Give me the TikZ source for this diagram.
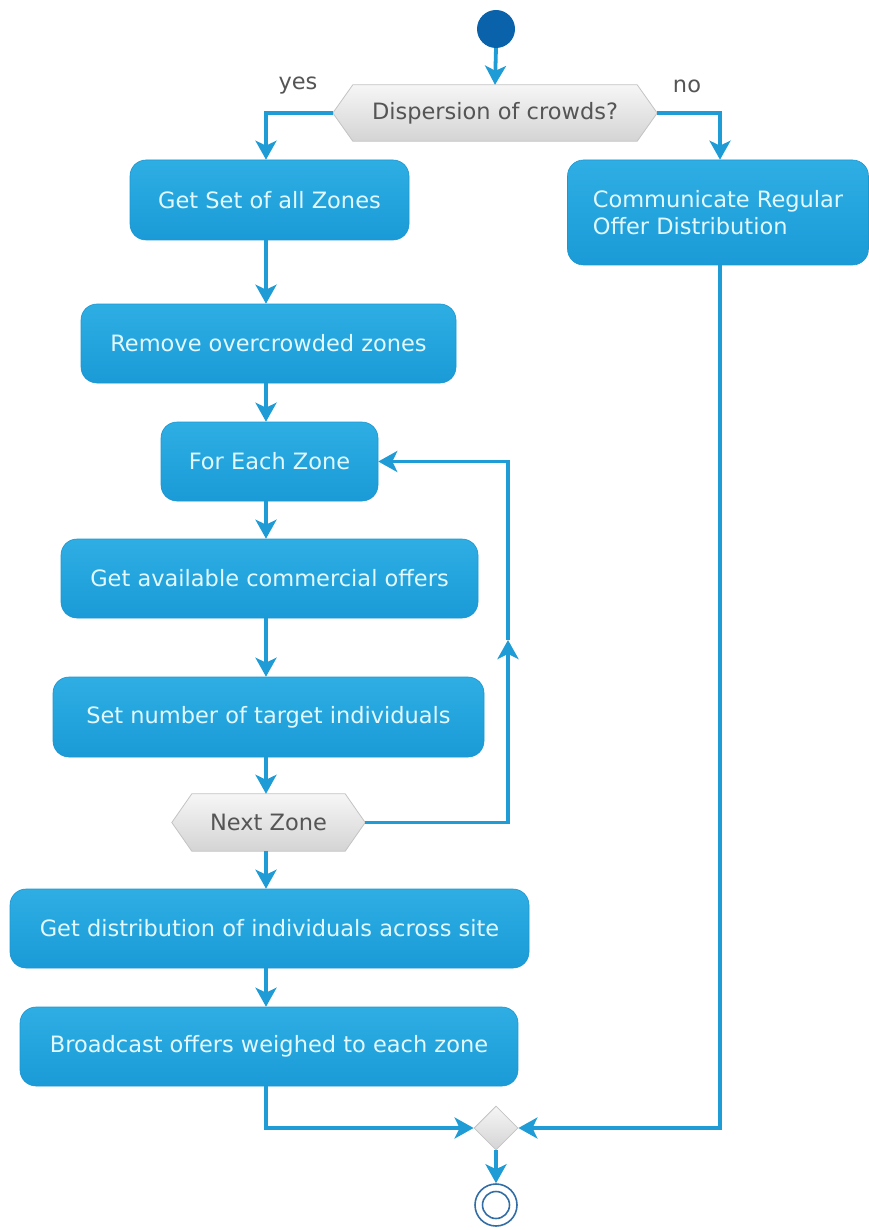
\documentclass[tikz,border=0pt]{standalone}
\usepackage{fontspec}
\setmainfont{DejaVu Sans}
\usetikzlibrary{arrows.meta,shapes.geometric,calc,backgrounds}
\definecolor{flowc}{RGB}{31,155,214}
\definecolor{boxtop}{RGB}{46,174,227}
\definecolor{boxbot}{RGB}{26,155,215}
\definecolor{boxedge}{RGB}{30,150,208}
\definecolor{boxtext}{RGB}{226,248,255}
\definecolor{hextop}{RGB}{246,246,246}
\definecolor{hexbot}{RGB}{212,212,212}
\definecolor{hexedge}{RGB}{195,195,195}
\definecolor{greytext}{RGB}{85,85,85}
\definecolor{startc}{RGB}{10,98,170}
\definecolor{endc}{RGB}{50,110,165}
\begin{document}
\begin{tikzpicture}[x=1pt,y=-1pt,
  txt/.style={font=\fontsize{22.5}{27}\selectfont},
  actbox/.style={txt, shade, top color=boxtop, bottom color=boxbot, draw=boxedge, line width=0.6pt,
    rounded corners=16pt, inner sep=0pt, text=boxtext},
  hexbox/.style={txt, inner sep=0pt, text=greytext},
  hexshape/.style={top color=hextop, bottom color=hexbot, draw=hexedge, line width=0.8pt},
  flow/.style={draw=flowc, line width=3.8pt, line join=miter,
    -{Stealth[length=19pt,width=21pt,inset=5pt,fill=flowc]}},
  lbl/.style={txt, text=greytext}
]
\useasboundingbox (0,0) rectangle (869,1230);
\coordinate (spine) at (266,0);
\coordinate (rspine) at (720,0);

% start / end
\node[circle, fill=startc, minimum size=38pt, inner sep=0pt] (start) at (496,29) {};
\node[circle, draw=endc, line width=1.6pt, minimum size=42pt, inner sep=0pt] (end) at (496,1205) {};
\node[circle, draw=endc, line width=1.6pt, minimum size=27pt, inner sep=0pt] (endin) at (496,1205) {};

% decision hexagons
\node[hexbox, minimum width=324pt, minimum height=56pt] (d1) at (495,113) {Dispersion of crowds?};
\node[hexbox, minimum width=193pt, minimum height=57pt] (nz) at (268.5,822.5) {Next Zone};
\begin{scope}[on background layer]
\shade[hexshape] (d1.west) -- ($(d1.north west)+(20,0)$) -- ($(d1.north east)+(-20,0)$) -- (d1.east)
  -- ($(d1.south east)+(-20,0)$) -- ($(d1.south west)+(20,0)$) -- cycle;
\shade[hexshape] (nz.west) -- ($(nz.north west)+(20,0)$) -- ($(nz.north east)+(-20,0)$) -- (nz.east)
  -- ($(nz.south east)+(-20,0)$) -- ($(nz.south west)+(20,0)$) -- cycle;
\end{scope}

\node[lbl] (yes) at (298,86) {yes};
\node[lbl] (no) at (687,86) {no};

% activity boxes
\node[actbox, minimum width=279pt, minimum height=80pt] (b1) at (269.5,200) {Get Set of all Zones};
\node[actbox, minimum width=301pt, minimum height=105pt, align=left] (rb) at (718,212.5) {Communicate Regular\\Offer Distribution};
\node[actbox, minimum width=375pt, minimum height=79pt] (b2) at (268.5,343.5) {Remove overcrowded zones};
\node[actbox, minimum width=217pt, minimum height=79pt] (fe) at (269.5,461.5) {For Each Zone};
\node[actbox, minimum width=417pt, minimum height=79pt] (b4) at (269.5,578.5) {Get available commercial offers};
\node[actbox, minimum width=431pt, minimum height=80pt] (b5) at (268.5,717) {Set number of target individuals};
\node[actbox, minimum width=519pt, minimum height=79pt] (b6) at (269.5,928.5) {Get distribution of individuals across site};
\node[actbox, minimum width=498pt, minimum height=79pt] (b7) at (269,1046.5) {Broadcast offers weighed to each zone};

% merge
\node[diamond, shade, top color=hextop, bottom color=hexbot, draw=hexedge, line width=0.8pt,
  minimum width=44pt, minimum height=44pt, inner sep=0pt] (m) at (496,1128) {};

% connectors
\draw[flow] (start.south) -- (d1.north);
\draw[flow] (d1.west) -| (b1.north -| spine);
\draw[flow] (d1.east) -| (rb.north -| rspine);
\draw[flow] (b1.south -| spine) -- (b2.north -| spine);
\draw[flow] (b2.south -| spine) -- (fe.north -| spine);
\draw[flow] (fe.south -| spine) -- (b4.north -| spine);
\draw[flow] (b4.south -| spine) -- (b5.north -| spine);
\draw[flow] (b5.south -| spine) -- (nz.north -| spine);
\draw[flow] (nz.south -| spine) -- (b6.north -| spine);
\draw[flow] (b6.south -| spine) -- (b7.north -| spine);

\coordinate (lp1) at (508,822.5);
\coordinate (lpm) at (508,640);
\coordinate (lp2) at (508,461.5);
\draw[flow] (nz.east) -- (lp1) -- (lpm);
\draw[flow] (lpm) -- (lp2) -- (fe.east);

\draw[flow] (b7.south -| spine) |- (m.west);
\draw[flow] (rb.south -| rspine) |- (m.east);
\draw[flow] (m.south) -- (end.north);
\end{tikzpicture}
\end{document}
